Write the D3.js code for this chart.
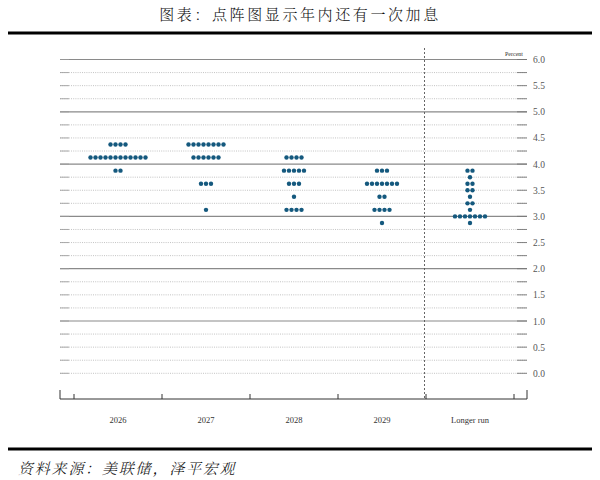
<!DOCTYPE html>
<html>
<head>
<meta charset="utf-8">
<script src="https://cdn.jsdelivr.net/npm/d3@7"></script>
<style>
  body { margin: 0; background: #fff; }
</style>
</head>
<body>
<script>
// data
const categories = ['2026', '2027', '2028', '2029', 'Longer run']
const dot_rates = [
    [4.375, 4.125, 3.875],
    [4.375, 4.125, 3.625, 3.125],
    [4.125, 3.875, 3.625, 3.375, 3.125],
    [3.875, 3.625, 3.375, 3.125, 2.875],
    [3.875, 3.75, 3.625, 3.5, 3.375, 3.25, 3.125, 3.0, 2.875],
]
const dot_counts = [
    [4, 12, 2],
    [8, 6, 3, 1],
    [4, 5, 3, 1, 4],
    [3, 7, 2, 4, 1],
    [2, 1, 2, 2, 1, 2, 1, 7, 1],
]
const y_tick_values = [0, 0.5, 1, 1.5, 2, 2.5, 3, 3.5, 4, 4.5, 5, 5.5, 6]
const grid_values = d3.range(0, 25).map(i => i * 0.25)
const title_text = '图表：点阵图显示年内还有一次加息'
const source_text = '资料来源：美联储，泽平宏观'

// layout
const width = 600, height = 480
const plot = {'left': 60, 'right': 527, 'top': 59.5, 'bottom': 373.3, 'axis': 399}
const dot_color = '#15597e'
const dot_r = 2.2
const dot_gap = 5.0

const svg = d3.select('body').append('svg')
    .attr('width', width)
    .attr('height', height)

const x = d3.scaleBand().domain(categories).range([74, 514])
const y = d3.scaleLinear().domain([0, 6]).range([plot.bottom, plot.top])

// title
svg.append('text')
    .text(title_text)
    .attr('x', width / 2)
    .attr('y', 20)
    .attr('text-anchor', 'middle')
    .style('font-family', '"Noto Serif CJK SC", "Noto Sans CJK SC"')
    .style('font-size', '15px')
    .style('font-weight', 300)
    .style('letter-spacing', '2.6px')
    .style('fill', '#111')

svg.append('line')
    .attr('x1', 8).attr('x2', 592)
    .attr('y1', 33).attr('y2', 33)
    .style('stroke', '#000')
    .style('stroke-width', 3)

// grid lines
const grid = svg.append('g')
grid.selectAll('line.grid')
    .data(grid_values)
    .enter()
    .append('line')
    .attr('class', 'grid')
    .attr('x1', plot.left).attr('x2', plot.right)
    .attr('y1', d => y(d)).attr('y2', d => y(d))
    .style('stroke', d => (d % 1 === 0 && d > 0) ? '#8a8a8a' : '#b4b4b4')
    .style('stroke-width', d => (d % 1 === 0 && d > 0) ? 1.2 : 0.8)
    .style('stroke-dasharray', d => (d % 1 === 0 && d > 0) ? null : '1,1.2')

// short solid ticks at both ends of every grid line
grid.selectAll('line.tick-r')
    .data(grid_values)
    .enter()
    .append('line')
    .attr('x1', plot.right - 10).attr('x2', plot.right)
    .attr('y1', d => y(d)).attr('y2', d => y(d))
    .style('stroke', '#777')
    .style('stroke-width', 0.9)
grid.selectAll('line.tick-l')
    .data(grid_values)
    .enter()
    .append('line')
    .attr('x1', plot.left).attr('x2', plot.left + 9)
    .attr('y1', d => y(d)).attr('y2', d => y(d))
    .style('stroke', '#999')
    .style('stroke-width', 0.8)

// y axis labels on the right
const y_axis = d3.axisRight(y)
    .tickValues(y_tick_values)
    .tickFormat(d3.format('.1f'))
    .tickSize(0)
    .tickPadding(0)
const y_g = svg.append('g')
    .attr('transform', `translate(${plot.right + 6},0)`)
    .call(y_axis)
y_g.select('.domain').remove()
y_g.selectAll('text')
    .style('font-family', '"Liberation Serif", "DejaVu Serif", serif')
    .style('font-size', '9.5px')
    .style('fill', '#555')

svg.append('text')
    .text('Percent')
    .attr('x', 523)
    .attr('y', 56)
    .attr('text-anchor', 'end')
    .style('font-family', '"Liberation Serif", serif')
    .style('font-size', '6px')
    .style('fill', '#333')

// x axis
const x_axis = d3.axisBottom(x).tickSize(0).tickPadding(18)
const x_g = svg.append('g')
    .attr('transform', `translate(0,${plot.axis})`)
    .call(x_axis)
x_g.select('.domain').remove()
x_g.selectAll('text')
    .style('font-family', '"Liberation Serif", "DejaVu Serif", serif')
    .style('font-size', '8.5px')
    .style('fill', '#333')

svg.append('line')
    .attr('x1', plot.left).attr('x2', plot.right)
    .attr('y1', plot.axis).attr('y2', plot.axis)
    .style('stroke', '#333')
    .style('stroke-width', 1)

const boundaries = categories.map(c => x(c)).concat([x(categories[categories.length - 1]) + x.bandwidth()])
svg.selectAll('line.x-tick')
    .data(boundaries)
    .enter()
    .append('line')
    .attr('x1', d => d).attr('x2', d => d)
    .attr('y1', plot.axis - 5).attr('y2', plot.axis)
    .style('stroke', '#333')
    .style('stroke-width', 1)
svg.selectAll('line.x-end')
    .data([plot.left, plot.right])
    .enter()
    .append('line')
    .attr('x1', d => d).attr('x2', d => d)
    .attr('y1', plot.axis - 9).attr('y2', plot.axis)
    .style('stroke', '#333')
    .style('stroke-width', 1)

// divider before longer run
const divider_x = x(categories[categories.length - 1]) - 1.5
svg.append('line')
    .attr('x1', divider_x).attr('x2', divider_x)
    .attr('y1', 48).attr('y2', plot.axis)
    .style('stroke', '#555')
    .style('stroke-width', 0.9)
    .style('stroke-dasharray', '2,2')

// dots
const dots = []
categories.forEach((cat, ci) => {
    dot_rates[ci].forEach((rate, ri) => {
        const n = dot_counts[ci][ri]
        for (let k = 0; k < n; k++) {
            dots.push({'cat': cat, 'rate': rate, 'offset': (k - (n - 1) / 2) * dot_gap})
        }
    })
})
svg.append('g').selectAll('circle')
    .data(dots)
    .enter()
    .append('circle')
    .attr('cx', d => x(d.cat) + x.bandwidth() / 2 + d.offset)
    .attr('cy', d => y(d.rate))
    .attr('r', dot_r)
    .style('fill', dot_color)

// footer
svg.append('line')
    .attr('x1', 8).attr('x2', 592)
    .attr('y1', 449).attr('y2', 449)
    .style('stroke', '#000')
    .style('stroke-width', 3)

svg.append('text')
    .text(source_text)
    .attr('x', 18)
    .attr('y', 474)
    .style('font-family', '"Noto Serif CJK SC", "Noto Sans CJK SC"')
    .style('font-size', '15px')
    .style('font-weight', 300)
    .style('font-style', 'italic')
    .style('letter-spacing', '1.8px')
    .style('fill', '#111')
</script>
</body>
</html>
